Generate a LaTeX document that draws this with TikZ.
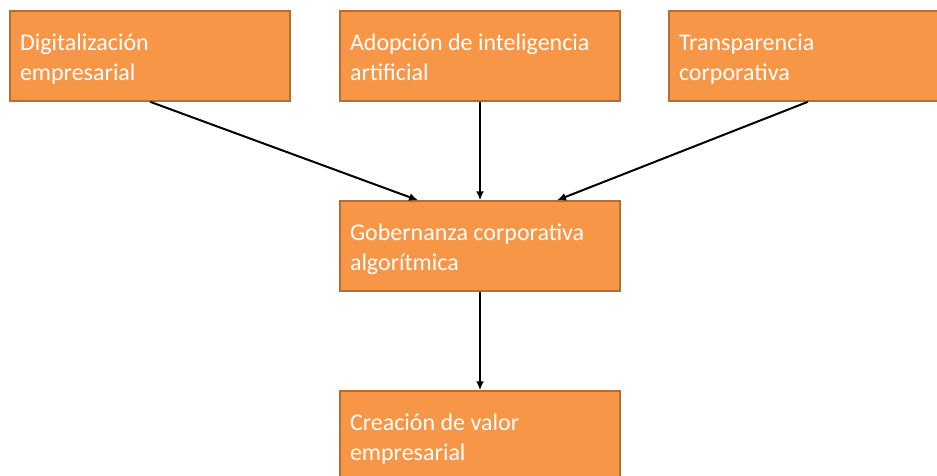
\documentclass[tikz,border=0pt]{standalone}
\usepackage{fontspec}
\setmainfont{Carlito}
\usetikzlibrary{positioning, arrows.meta}
\definecolor{boxfill}{HTML}{F79646}
\definecolor{boxline}{HTML}{B66D31}
\tikzset{
  box/.style={draw=boxline, fill=boxfill, line width=1.5pt, minimum width=280pt, minimum height=90pt,
    text width=260pt, align=flush left, inner sep=10pt, text=white,
    font=\fontsize{24}{30}\selectfont, execute at begin node={\rule{0pt}{25pt}},
    execute at end node={\rule[-6pt]{0pt}{6pt}}},
  link/.style={->, line width=2pt, black}
}
\begin{document}
\begin{tikzpicture}[>={Latex[length=9pt,width=8pt]}, x=1pt, y=-1pt]
                \useasboundingbox (0,0) rectangle (937,476);

                % Boxes
                \node[box] (dig) at (150,56) {Digitalización\\empresarial};
                \node[box] (ia) at (480,56) {Adopción de inteligencia\\artificial};
                \node[box] (trans) at (809,56) {Transparencia\\corporativa};
                \node[box] (gob) at (480,246) {Gobernanza corporativa\\algorítmica};
                \node[box] (valor) at (480,436) {Creación de valor\\empresarial};

                % Arrows
                \draw[link] (dig.south) -- ([xshift=-62pt]gob.north);
                \draw[link] (ia.south) -- (gob.north);
                \draw[link] ([xshift=-1pt]trans.south) -- ([xshift=77pt]gob.north);
                \draw[link] (gob.south) -- (valor.north);
            \end{tikzpicture}
\end{document}
